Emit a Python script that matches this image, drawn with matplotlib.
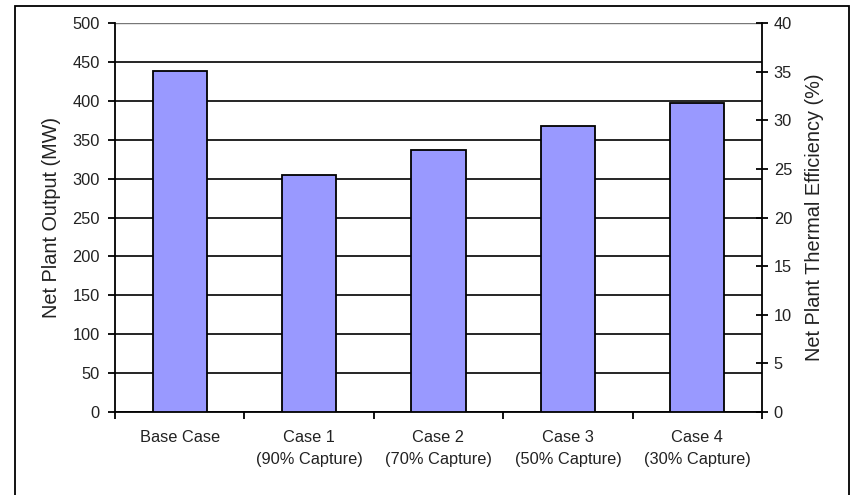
import matplotlib.pyplot as plt
from matplotlib.patches import Rectangle
import numpy as np

# net plant output per case (MW)
cases = ['Base Case', 'Case 1\n(90% Capture)', 'Case 2\n(70% Capture)',
         'Case 3\n(50% Capture)', 'Case 4\n(30% Capture)']
output_mw = [438, 305, 337, 367, 397]

left_ticks = list(range(0, 501, 50))
right_ticks = list(range(0, 41, 5))

plt.rcParams['font.family'] = ['Liberation Sans', 'DejaVu Sans']
plt.rcParams['font.size'] = 11.8
txt = '#222222'

fig = plt.figure(figsize=(8.52, 4.95), dpi=100)
ax = fig.add_axes([115 / 852, 1 - 412 / 495, (762 - 115) / 852, (412 - 23) / 495])

x = np.arange(len(cases))
ax.bar(x, output_mw, width=0.42, color='#9999FF', edgecolor='black',
       linewidth=1.3, zorder=3)

ax.set_xlim(-0.5, len(cases) - 0.5)
ax.set_ylim(0, 500)
ax.set_yticks(left_ticks)
ax.yaxis.grid(True, color='black', linewidth=1.2, zorder=0)
ax.set_axisbelow(True)
# top gridline is lighter
ax.get_ygridlines()[-1].set_color('#777777')
ax.get_ygridlines()[-1].set_linewidth(1.0)

# category labels sit between boundary ticks
ax.set_xticks(x)
ax.set_xticklabels(cases, color=txt, linespacing=1.55)
ax.tick_params(axis='x', which='major', length=0, pad=13)
ax.set_xticks(np.arange(-0.5, len(cases), 1.0), minor=True)
ax.tick_params(axis='x', which='minor', direction='out', length=5, width=1.3)
ax.tick_params(axis='y', direction='out', length=5, width=1.3,
               labelcolor=txt, pad=6)

for side in ['top', 'right']:
    ax.spines[side].set_visible(False)
for side in ['left', 'bottom']:
    ax.spines[side].set_linewidth(1.3)

ax.set_ylabel('Net Plant Output (MW)', color=txt, fontsize=14.3, labelpad=8)

# thermal efficiency axis on the right
ax2 = ax.twinx()
ax2.set_ylim(0, 40)
ax2.set_yticks(right_ticks)
ax2.tick_params(axis='y', direction='inout', length=9, width=1.3,
                labelcolor=txt, pad=4)
for side in ['top', 'left', 'bottom']:
    ax2.spines[side].set_visible(False)
ax2.spines['right'].set_linewidth(1.3)
ax2.set_ylabel('Net Plant Thermal Efficiency (%)', color=txt, fontsize=14.3,
               labelpad=9)

# outer chart border
fig.patches.append(Rectangle((15 / 852, -0.02), (849 - 15) / 852, 1.02 - 6 / 495,
                             transform=fig.transFigure, fill=False,
                             edgecolor='black', linewidth=1.3))

fig.savefig('out.png', dpi=100)
